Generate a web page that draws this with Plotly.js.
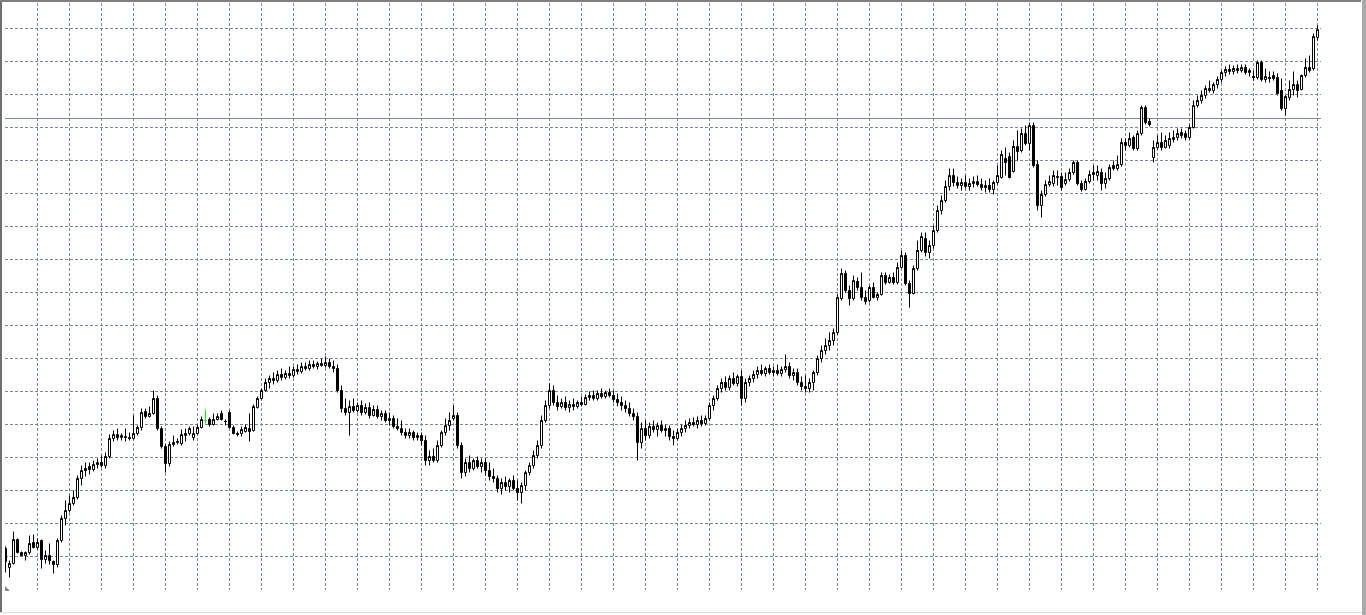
<!DOCTYPE html>
<html>
<head>
<meta charset="utf-8">
<script src="https://cdn.plot.ly/plotly-3.0.1.min.js"></script>
<style>
  html, body { margin: 0; padding: 0; background: #ffffff; overflow: hidden; }
  #chart { position: absolute; left: 0; top: 0; width: 1366px; height: 615px; }
  .frame { position: absolute; pointer-events: none; }
</style>
</head>
<body>
<div id="chart"></div>
<div class="frame" style="left:0;top:0;width:2px;height:613px;background:#6f6f6f;"></div>
<div class="frame" style="left:0;top:0;width:1361px;height:2px;background:#7f7f7f;"></div>
<div class="frame" style="left:1362px;top:0;width:4px;height:615px;background:#aaaaaa;"></div>
<div class="frame" style="left:0;top:612px;width:1362px;height:1px;background:#dcdcdc;"></div>
<script>
// ---- data (price in chart points) ----
const openPrices = [
52,33,37,61,48,45,48,58,53,60,
41,45,39,36,60,82,90,97,103,122,
130,134,131,136,138,135,144,162,166,163,
164,163,162,167,173,189,184,187,202,172,
154,137,156,158,157,165,167,163,167,173,
180,181,176,181,187,179,188,173,167,167,
169,172,170,193,202,210,218,222,220,226,
223,227,225,231,229,234,232,236,234,237,
235,238,234,232,210,192,188,194,190,195,
188,193,185,191,184,187,180,182,174,172,
168,165,168,163,165,160,140,144,140,155,
168,175,182,185,155,128,138,132,140,134,
138,130,124,122,112,118,114,120,112,108,
115,128,135,145,155,180,195,210,198,194,
198,193,196,194,198,196,203,205,202,207,
204,208,205,201,198,195,192,187,184,158,
172,165,174,171,175,170,172,164,162,168,
172,175,178,176,180,177,182,195,202,212,
218,213,222,217,224,202,218,222,226,230,
227,232,228,230,227,231,234,225,228,218,
214,212,218,228,242,250,255,260,268,302,
327,310,302,319,313,303,300,313,303,306,
325,318,323,318,333,345,317,307,332,350,
362,348,355,370,390,400,414,425,418,415,
418,414,417,419,416,413,415,411,418,423,
442,444,429,454,450,467,457,475,436,395,
406,416,417,424,424,417,421,428,438,417,
411,419,428,425,428,417,422,435,432,436,
458,455,463,452,467,493,479,443,453,458,
453,455,461,463,468,467,463,473,495,500,
505,512,510,516,521,528,531,529,532,530,
533,528,524,523,538,521,523,525,523,510,
492,503,511,516,511,525,533,532,563
];
const highPrices = [
54,40,69,62,49,49,65,66,62,61,
50,57,40,62,85,100,105,110,125,135,
138,138,140,142,145,148,166,170,172,167,
172,168,185,175,192,192,194,210,205,174,
156,159,165,162,171,172,174,174,176,184,
191,183,187,187,190,181,190,175,169,174,
176,187,196,204,212,222,225,228,230,232,
230,234,234,236,238,238,240,240,239,242,
244,242,240,236,215,202,200,202,198,200,
197,198,195,195,190,190,188,185,182,180,
172,172,170,168,168,165,150,152,160,170,
182,188,195,188,158,142,145,142,144,142,
142,138,132,125,122,124,122,125,120,118,
130,138,150,160,185,200,217,215,205,202,
204,200,202,200,204,206,209,210,210,212,
210,212,210,207,204,200,198,192,188,178,
180,178,180,178,180,176,175,170,172,176,
180,182,183,184,185,185,198,205,215,222,
224,225,228,226,230,222,225,230,234,236,
234,236,234,236,234,246,238,232,232,224,
225,222,230,245,255,262,268,272,306,332,
330,315,325,323,328,310,315,318,308,328,
328,326,328,338,350,348,320,335,360,368,
368,360,375,395,405,420,432,432,424,422,
425,422,424,425,422,420,422,420,435,450,
453,448,460,470,472,475,478,478,440,410,
420,425,430,430,428,428,432,440,440,420,
422,430,435,435,432,428,436,440,445,462,
462,468,465,470,495,495,482,460,465,468,
465,468,470,472,472,470,476,500,505,510,
515,520,518,524,530,534,536,535,536,536,
536,532,530,540,540,532,529,529,527,522,
505,520,529,520,526,542,545,567,575
];
const lowPrices = [
28,23,36,47,44,40,46,52,51,32,
37,36,27,33,58,75,88,95,101,115,
124,126,129,132,133,132,142,159,160,160,
159,160,161,165,170,182,183,186,170,152,
128,134,154,156,155,159,165,160,166,172,
177,174,175,180,180,175,172,166,164,164,
168,159,169,192,201,209,212,216,218,220,
221,222,223,226,227,230,230,232,231,234,
233,232,228,208,188,185,165,188,188,185,
186,182,184,182,180,178,175,172,170,165,
162,162,160,160,155,135,135,138,138,153,
165,170,180,152,122,124,128,130,132,128,
125,120,118,108,106,110,108,110,100,97,
110,125,132,142,152,178,192,195,190,192,
190,188,190,192,194,195,200,200,200,202,
202,203,198,194,190,188,184,180,140,152,
160,162,168,164,168,164,160,155,160,164,
168,172,174,172,174,175,180,190,200,208,
210,210,215,214,195,198,214,218,222,225,
224,226,224,225,224,228,222,220,215,210,
208,208,210,225,238,246,250,255,266,300,
308,295,300,310,300,296,298,302,300,305,
316,317,316,316,332,315,293,306,330,348,
344,342,352,368,386,398,410,414,412,410,
412,410,413,414,410,408,408,406,416,422,
425,422,428,440,448,455,450,433,390,383,
404,414,414,415,410,415,419,426,415,409,
410,417,420,420,410,412,420,430,430,434,
450,453,450,450,465,476,474,438,451,450,
452,452,458,460,462,460,461,472,493,497,
502,508,507,512,518,524,526,526,527,528,
526,524,520,521,519,518,518,520,505,490,
485,500,505,503,510,523,528,530,560
];
const closePrices = [
39,37,61,48,45,48,57,53,58,41,
45,40,36,60,82,90,97,103,122,130,
132,131,136,138,135,144,162,166,163,165,
163,162,167,173,188,184,187,202,172,154,
137,156,158,159,166,167,172,167,173,181,
180,176,181,184,181,179,173,167,166,171,
173,169,194,202,210,218,222,220,226,223,
227,225,231,229,234,232,236,234,237,235,
238,234,232,210,192,188,194,190,195,188,
193,185,191,184,187,180,182,174,172,168,
165,168,163,165,160,140,144,140,155,168,
175,180,185,155,128,138,132,140,134,138,
130,124,122,112,118,114,120,112,108,115,
128,135,145,155,180,195,210,198,194,198,
193,196,194,198,196,203,205,202,207,204,
208,205,201,198,195,192,187,184,158,172,
165,174,171,175,170,172,164,162,168,172,
175,178,176,180,177,182,195,202,212,218,
213,222,217,224,202,218,222,226,230,227,
232,228,230,227,231,234,225,228,218,214,
212,218,228,242,250,255,260,268,303,327,
310,302,320,313,303,299,313,303,306,325,
318,323,318,333,345,317,307,332,350,364,
348,355,370,390,400,414,425,418,415,418,
414,417,419,416,413,415,411,418,425,446,
438,423,454,449,467,457,475,435,395,406,
416,419,425,423,413,421,428,438,417,411,
419,426,426,429,417,422,433,432,436,458,
455,462,452,467,493,478,476,453,458,453,
460,462,463,467,465,463,473,495,500,505,
512,510,516,521,528,531,529,532,530,533,
528,530,523,538,521,524,522,522,507,492,
504,511,516,510,525,533,530,564,571
];
const greenBarIndex = 50;      // the single bar drawn in green
const levelLine = 482;         // horizontal price line
const barCount = closePrices.length;

// ---- build traces ----
const xMain = [], oMain = [], hMain = [], lMain = [], cMain = [];
for (let i = 0; i < barCount; i++) {
  if (i === greenBarIndex) continue;
  xMain.push(i); oMain.push(openPrices[i]); hMain.push(highPrices[i]);
  lMain.push(lowPrices[i]); cMain.push(closePrices[i]);
}
const g = greenBarIndex;
const traces = [
  {
    type: 'candlestick',
    x: xMain, open: oMain, high: hMain, low: lMain, close: cMain,
    increasing: { line: { color: '#000000', width: 1 }, fillcolor: '#ffffff' },
    decreasing: { line: { color: '#000000', width: 1 }, fillcolor: '#000000' },
    whiskerwidth: 0,
    hoverinfo: 'skip',
    showlegend: false
  },
  {
    type: 'candlestick',
    x: [g], open: [openPrices[g]], high: [highPrices[g]], low: [lowPrices[g]], close: [closePrices[g]],
    increasing: { line: { color: '#00ff00', width: 1 }, fillcolor: '#00ff00' },
    decreasing: { line: { color: '#00ff00', width: 1 }, fillcolor: '#00ff00' },
    whiskerwidth: 0,
    hoverinfo: 'skip',
    showlegend: false
  }
];

const xGrid = [];
for (let k = 8; k < barCount; k += 8) xGrid.push(k);

const gridColor = '#778899';
const layout = {
  width: 1366, height: 615,
  margin: { l: 5, r: 45, t: 3, b: 25, pad: 0 },
  paper_bgcolor: '#ffffff',
  plot_bgcolor: '#ffffff',
  showlegend: false,
  hovermode: false,
  boxgap: 0.5,
  boxgroupgap: 0,
  xaxis: {
    range: [-0.125, barCount - 0.125],
    tickmode: 'array', tickvals: xGrid,
    showticklabels: false, ticks: '',
    showgrid: true, gridcolor: gridColor, gridwidth: 1, griddash: '3px,2px',
    zeroline: false, showline: false,
    rangeslider: { visible: false },
    fixedrange: true
  },
  yaxis: {
    range: [10.5, 597.5],
    tickmode: 'linear', tick0: 11, dtick: 33,
    showticklabels: false, ticks: '',
    showgrid: true, gridcolor: gridColor, gridwidth: 1, griddash: '3px,2px',
    zeroline: false, showline: false,
    fixedrange: true
  },
  shapes: [
    { type: 'line', xref: 'paper', yref: 'y', x0: 0, x1: 1, y0: levelLine, y1: levelLine,
      line: { color: gridColor, width: 1 }, layer: 'below' },
    { type: 'path', xref: 'paper', yref: 'paper',
      path: 'M 0 0.0068 L 0 -0.0017 L 0.0038 -0.0017 Z',
      fillcolor: gridColor, line: { width: 0 } }
  ]
};

Plotly.newPlot('chart', traces, layout, { staticPlot: true, displayModeBar: false });
</script>
</body>
</html>
